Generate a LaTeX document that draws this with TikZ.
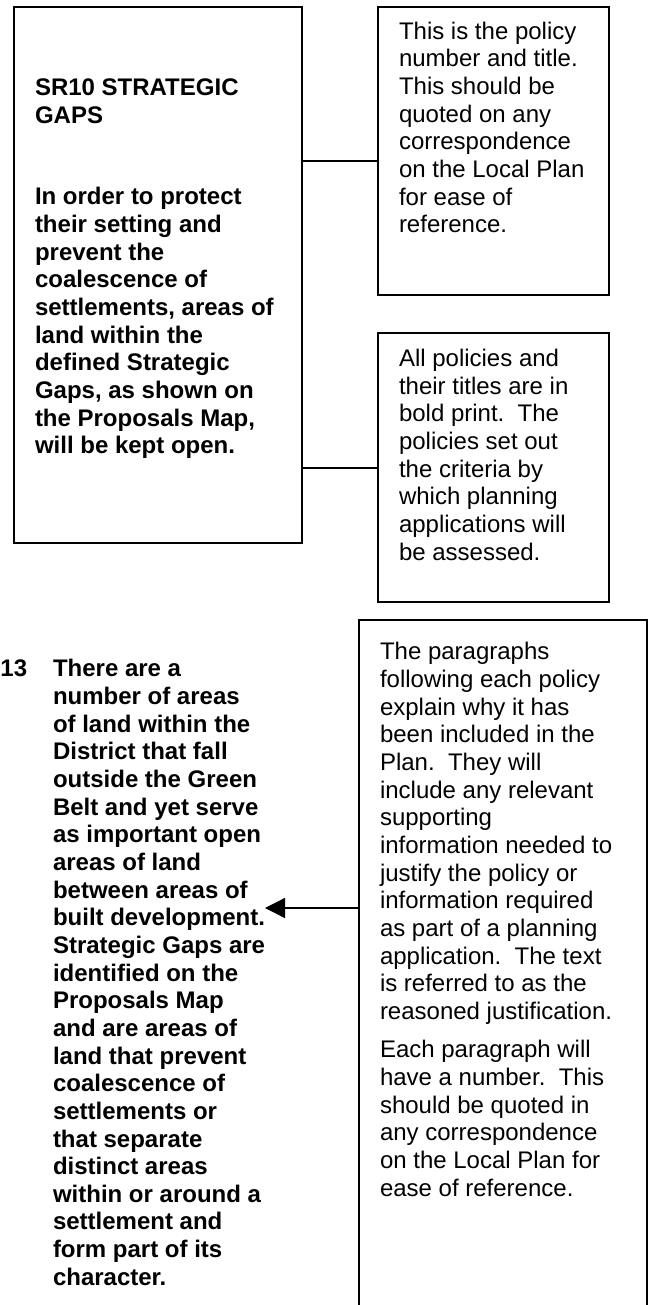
\documentclass[tikz,border=0pt]{standalone}
\usepackage{fontspec}
\setmainfont{Liberation Sans}
\usetikzlibrary{arrows.meta}
\tikzset{
  box/.style={draw, line width=1.8pt, anchor=north west, inner sep=0pt, outer sep=0pt},
  txt/.style={anchor=north west, inner sep=0pt, outer sep=0pt, align=left, font=\fontsize{24}{27.65}\selectfont},
  btxt/.style={txt, font=\fontsize{24}{27.65}\selectfont\bfseries},
  link/.style={line width=1.3pt},
}
\begin{document}
\begin{tikzpicture}[x=1pt,y=-1pt]
\useasboundingbox (0,0) rectangle (649,1305);
\clip (0,0) rectangle (649,1305);
% boxes
\node[box, minimum width=288pt, minimum height=536pt] (b1) at (14,7) {};
\node[box, minimum width=231pt, minimum height=288pt] (b2) at (378,7) {};
\node[box, minimum width=231pt, minimum height=269pt] (b3) at (378,333) {};
\node[box, minimum width=288pt, minimum height=720pt] (b4) at (359,620) {};
% texts
\node[btxt] (t1a) at (35,76.6) {\strut SR10 STRATEGIC\\GAPS};
\node[btxt] (t1b) at (35,185.6) {\strut In order to protect\\their setting and\\prevent the\\coalescence of\\settlements, areas of\\land within the\\defined Strategic\\Gaps, as shown on\\the Proposals Map,\\will be kept open.};
\node[txt] (t2) at (399,19.9) {\strut This is the policy\\number and title.\\This should be\\quoted on any\\correspondence\\on the Local Plan\\for ease of\\reference.};
\node[txt] (t3) at (399,347.3) {\strut All policies and\\their titles are in\\bold print.\ \ The\\policies set out\\the criteria by\\which planning\\applications will\\be assessed.};
\node[txt] (t4a) at (380,640.6) {\strut The paragraphs\\following each policy\\explain why it has\\been included in the\\Plan.\ \ They will\\include any relevant\\supporting\\information needed to\\justify the policy or\\information required\\as part of a planning\\application.\ \ The text\\is referred to as the\\reasoned justification.};
\node[txt] (t4b) at (380,1038.6) {\strut Each paragraph will\\have a number.\ \ This\\should be quoted in\\any correspondence\\on the Local Plan for\\ease of reference.};
\node[btxt] (num) at (0.5,657.6) {\strut 13};
\node[btxt] (para) at (53,657.6) {\strut There are a\\number of areas\\of land within the\\District that fall\\outside the Green\\Belt and yet serve\\as important open\\areas of land\\between areas of\\built development.\\Strategic Gaps are\\identified on the\\Proposals Map\\and are areas of\\land that prevent\\coalescence of\\settlements or\\that separate\\distinct areas\\within or around a\\settlement and\\form part of its\\character.};
% connectors
\coordinate (y1) at (0,161);
\coordinate (y2) at (0,468);
\coordinate (tip) at (265,908);
\draw[link] (b1.east |- y1) -- (b2.west |- y1);
\draw[link] (b1.east |- y2) -- (b3.west |- y2);
\draw[link, -{Triangle[length=20pt,width=20pt]}] (b4.west |- tip) -- (tip);
\end{tikzpicture}
\end{document}
